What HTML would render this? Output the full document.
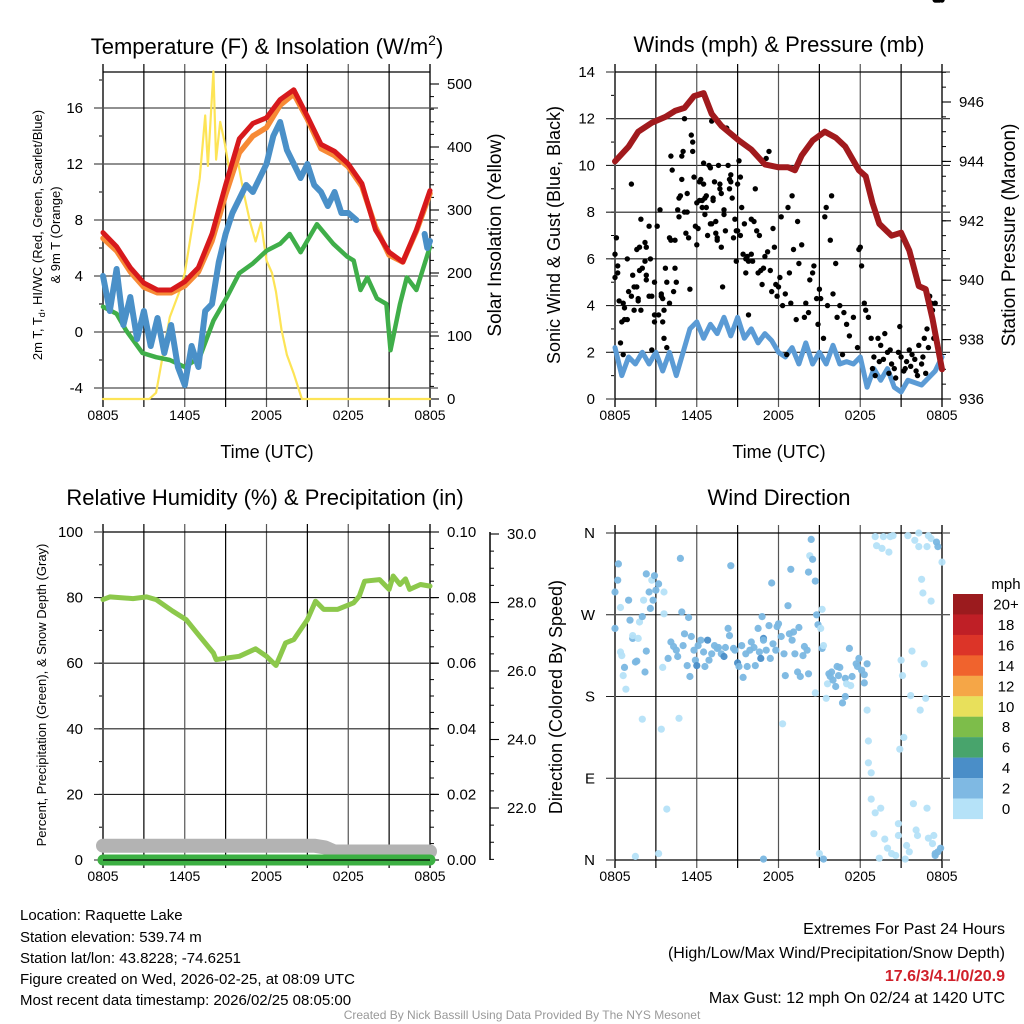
<!DOCTYPE html>
<html><head><meta charset="utf-8"><style>
html,body{margin:0;padding:0;background:#fff;overflow:hidden}
svg{display:block;font-family:"Liberation Sans",sans-serif}
</style></head><body>
<svg id="s" width="1024" height="1024" viewBox="0 0 1024 1024" xmlns="http://www.w3.org/2000/svg"></svg>
<script>
// ---------- data ----------
const timeTickLabels = ["0805","1405","2005","0205","0805"];
const tempHours = [0,1,2,3,4,5,6,7,8,9,10,11,12,13,14,15,16,17,18,19,20,21,22,23,24];
const tempRed =    [7.1,6.1,4.6,3.5,3.0,3.0,3.6,4.6,7.0,10.5,13.8,14.9,15.3,16.6,17.3,15.4,13.4,12.9,12.0,10.6,7.3,5.7,5.0,7.3,10.1];
const tempOrange = [6.7,5.8,4.3,3.2,2.8,2.8,3.3,4.3,6.5,9.8,12.8,14.0,14.6,16.2,17.0,15.2,13.1,12.6,11.8,10.4,7.5,5.5,5.0,7.2,9.9];
const dewHours = [0,1,1.7,2.9,3.9,4.9,6,7.1,8.1,9.1,10,11,12,13,13.7,14.5,15.7,16.9,17.9,18.4,18.9,19.4,20.1,20.8,21.1,21.8,22.3,23,24];
const dewGreen = [1.8,1.3,0.1,-1.5,-1.8,-2.0,-2.5,-1.8,0.8,2.5,4.2,4.9,5.8,6.3,7.0,5.7,7.7,6.3,5.4,5.1,3.0,3.9,2.4,2.0,-1.3,2.0,3.9,3.0,6.1];
const chillHours = [0,0.5,1,1.5,2,2.5,3,3.5,4,4.5,5,5.5,6,6.5,7,7.5,8,8.5,9,9.5,10,10.5,11,11.5,12,12.5,13,13.5,14,14.5,15,15.5,16,16.5,17,17.5,18,18.6];
const chillBlue =  [4,1.5,4.5,0.5,2.5,-0.5,1.5,-1,1,-1.5,0.5,-2.5,-3.8,-1,-2.5,1.5,2,5,7,8.5,9.5,10.5,10,11,12,14,15,13,12,11,12,10.5,10,9,10,8.5,8.5,8];
const chillHours2 = [23.6,23.8,24];
const chillBlue2 = [7,6,6.5];
const solarHours = [0,3.4,3.9,4.4,4.9,5.6,6,6.6,7.1,7.5,7.7,8.1,8.3,8.6,8.9,9.3,9.8,10.3,10.8,11.2,11.6,12,12.4,12.7,13.1,13.5,14,14.6,24];
const solarYellow = [0,0,10,70,130,170,200,280,350,450,370,520,380,440,410,360,390,330,280,250,280,220,200,170,110,70,40,0,0];
const presHours = [0,1,1.7,2.7,3.7,4.4,5.1,5.8,6.5,7.1,7.8,9.1,10,11,12,12.7,13.2,13.7,14.5,15.4,16.2,16.9,17.9,18.4,18.9,19.4,20.3,21,21.6,22.3,22.8,23.3,24];
const presMaroon = [944.0,944.5,945.0,945.3,945.5,945.7,945.8,946.2,946.3,945.6,945.2,944.7,944.4,943.9,943.8,943.8,943.7,944.2,944.7,945.0,944.8,944.5,943.7,943.5,942.6,941.9,941.5,941.6,941.0,939.8,939.7,938.7,937.0];
const windHours = [0,0.5,1,1.5,2,2.5,3,3.5,4,4.5,5,5.5,6,6.5,7,7.5,8,8.5,9,9.5,10,10.5,11,11.5,12,12.5,13,13.5,14,14.5,15,15.5,16,16.5,17,17.5,18,18.5,19,19.5,20,20.5,21,21.5,22,22.5,23,23.5,24];
const windBlue = [2.2,1.0,1.8,1.5,2.0,1.5,2.0,1.2,2.0,1.0,2.0,3.0,3.3,2.6,3.2,2.8,3.5,2.7,3.5,2.6,3.0,2.4,2.8,2.5,2.0,1.8,2.2,1.5,2.4,1.5,2.0,1.5,2.3,1.5,1.6,1.5,1.8,0.5,1.3,0.8,1.3,0.5,0.3,0.8,0.7,0.6,0.9,1.2,1.8];
const gustHours = [0,0,0.1,0.2,0.2,0.3,0.4,0.5,0.6,0.6,0.7,0.7,0.9,0.9,1.0,1.2,1.2,1.3,1.4,1.4,1.6,1.6,1.7,1.7,1.8,1.8,1.9,1.9,2.0,2.2,2.2,2.3,2.3,2.3,2.5,2.5,2.6,2.7,2.7,2.9,2.9,2.9,3.1,3.2,3.3,3.4,3.4,3.5,3.5,3.6,3.6,3.7,3.8,3.8,4.0,4.0,4.1,4.1,4.2,4.3,4.4,4.4,4.5,4.6,4.7,4.7,4.8,4.9,4.9,5.0,5.1,5.1,5.2,5.3,5.3,5.4,5.5,5.6,5.7,5.7,5.8,5.9,6.0,6.0,6.1,6.2,6.2,6.3,6.4,6.4,6.5,6.5,6.6,6.6,6.7,6.7,6.8,6.9,7.0,7.0,7.1,7.1,7.2,7.2,7.3,7.4,7.4,7.5,7.5,7.6,7.7,7.7,7.8,7.8,7.9,8.0,8.0,8.1,8.2,8.3,8.4,8.4,8.5,8.5,8.6,8.7,8.8,8.9,8.9,9.0,9.0,9.1,9.2,9.2,9.3,9.4,9.5,9.6,9.6,9.7,9.8,9.8,10.0,10.0,10.1,10.2,10.3,10.4,10.5,10.6,10.7,10.8,10.9,11.0,11.1,11.2,11.3,11.4,11.5,11.6,11.7,11.8,11.9,12.0,12.1,12.2,12.3,12.5,12.6,12.7,12.8,12.9,13.0,13.1,13.3,13.4,13.5,13.7,13.9,14.0,14.2,14.3,14.5,14.6,14.8,14.9,15.0,15.1,15.3,15.4,15.5,15.6,15.8,15.9,16.0,16.2,16.3,16.5,16.7,16.8,17.0,17.2,17.5,17.8,17.9,18.0,18.1,18.3,18.4,18.6,18.8,18.9,19.0,19.1,19.3,19.4,19.5,19.7,19.8,20.0,20.1,20.2,20.3,20.5,20.6,20.8,20.9,21.0,21.2,21.3,21.4,21.6,21.7,21.8,22.0,22.1,22.2,22.3,22.5,22.6,22.7,22.8,22.9,23.0,23.1,23.2,23.3,23.4,23.5,23.5,23.6,23.7,23.8,24.0];
const gustMph = [6.2,5.2,6.9,5.7,5.4,4.2,2.4,3.3,1.9,4.1,3.4,3.9,6.0,3.4,4.6,9.2,4.4,5.3,4.8,3.8,6.4,4.8,4.2,4.3,6.5,5.5,7.7,3.8,5.6,6.7,5.9,5.3,6.5,5.1,7.4,4.4,6.0,4.4,2.1,3.3,3.6,5.0,7.4,3.6,8.1,4.5,4.4,4.3,3.3,3.8,2.6,5.6,5.0,2.2,6.9,4.1,10.4,6.8,9.8,4.6,5.6,6.8,5.0,8.1,7.8,8.6,8.7,10.4,9.4,10.6,12.0,8.0,7.1,8.8,8.0,6.9,4.7,11.3,10.6,11.0,9.5,7.4,6.6,8.4,7.3,9.3,8.5,9.4,8.5,8.2,10.1,9.2,7.9,8.6,8.7,8.2,7.0,10.0,9.9,7.5,11.9,7.5,8.6,8.5,9.3,7.6,7.1,6.8,6.9,10.0,9.2,9.0,8.8,6.5,4.8,8.1,7.9,7.2,11.6,10.0,9.0,9.4,9.6,9.3,8.6,6.9,7.7,5.9,7.2,7.2,9.2,10.2,9.5,7.0,8.2,6.2,7.5,5.4,6.0,6.1,5.9,3.6,7.7,6.2,5.9,7.6,9.0,7.2,5.4,7.0,5.5,4.9,5.6,6.1,10.3,6.3,10.6,5.5,4.6,7.3,6.5,4.9,4.4,4.8,5.2,7.8,4.0,4.5,1.9,8.2,5.4,4.1,8.7,6.4,3.4,7.6,5.8,6.6,3.5,4.1,3.7,5.1,5.4,5.7,4.3,3.2,4.7,4.3,2.6,7.8,8.2,4.0,6.8,8.7,4.5,5.8,3.5,4.0,1.9,3.7,3.2,2.7,3.5,2.2,6.4,6.5,5.7,4.1,3.8,3.5,2.6,1.3,1.8,1.0,2.6,1.6,2.3,1.7,2.8,2.0,1.1,2.1,1.5,1.3,0.9,2.0,3.1,1.8,1.2,1.3,1.6,2.1,1.4,1.9,1.7,1.2,1.0,2.3,1.5,1.8,2.6,1.1,3.0,2.2,4.4,4.1,3.8,2.6,4.1];
const rhHours = [0,0.5,2.2,3.2,3.9,5.1,6.1,7.1,8.1,8.3,9.1,10,11.2,12,12.7,13.4,14,15,15.6,16.2,17.2,18.4,18.8,19.2,20.3,21,21.3,21.8,22.2,22.5,23.3,24];
const rhGreen = [79.4,80.2,79.7,80.2,79.4,75.9,73.3,68.2,63.1,61.1,61.6,62.1,64.4,62.1,59.3,66.2,67.2,73.3,78.9,76.4,76.4,78.4,80.4,85,85.5,82.5,86.6,84,85.7,82.5,84,83.5];
const precipHours = [0,24];
const precipIn = [0,0];
const snowHours = [0,15.5,16.3,17.0,24];
const snowDepth = [20.9,20.9,20.85,20.73,20.73];
const dirLabels = ["N","E","S","W","N"];
const dirHours = [0,0,0.2,0.25,0.4,0.4,0.5,0.6,0.7,0.8,1,1.1,1.3,1.3,1.5,1.6,1.7,1.8,2,2.1,2.0,2.2,2.3,2.3,2.5,2.6,2.7,2.8,2.9,3,3.2,3.4,3.6,3.6,3.5,3.8,3.2,1.5,3.9,4.1,4.3,4.5,4.6,4.8,4.9,4.7,5,5.1,5.3,5.4,5.5,5.6,5.8,5.9,6,6.1,6.3,6.5,6.6,6.8,6.9,7.1,7.3,7.5,7.6,7.8,8,8.1,8.3,8.4,8.5,8.7,8.8,9,9.1,9.3,9.4,9.6,9.7,9.9,10,10.2,10.3,10.5,10.6,10.7,10.8,10.9,10.9,10.9,11.1,11.3,11.4,11.5,11.6,11.8,11.9,12,12.2,12.3,12.4,12.5,12.7,12.8,12.9,13,13.1,13.2,13.4,13.5,13.6,13.8,13.9,14.1,14.2,14.2,14.3,14.4,14.5,14.7,14.8,14.7,14.9,15,15.1,15.2,15.2,15.3,15.3,15.5,15.6,15.7,15.8,15.9,16.0,16.2,16.3,16.4,16.5,16.7,16.9,16.9,17.0,17.2,17.3,17.4,17.7,17.8,17.9,18.1,18.3,18.3,18.5,18.5,18.6,18.6,18.8,18.8,19,19.1,19.1,19.2,19.4,19.5,19.6,19.7,19.8,20,20.1,20.2,20.3,20.4,20.6,20.8,20.8,20.9,21,21.1,21.2,21.3,21.4,21.5,21.6,21.7,21.8,21.9,22,22.1,22.2,22.3,22.3,22.4,22.5,22.6,22.7,22.8,22.9,22.9,23,23,23.2,23.2,23.3,23.4,23.5,23.5,23.6,23.7,23.7,23.9,24];
const dirDeg = [255,295,308,326,278,229,225,203,212,188,286,264,244,247,218,219,244,262,268,286,155,207,230,315,295,277,308,286,313,297,304,144,295,271,212,56,7,4,222,240,235,231,224,332,273,156,236,249,214,267,202,246,231,220,214,236,242,229,213,242,220,227,236,233,234,227,224,234,255,247,324,233,231,217,213,236,201,227,213,231,240,234,214,255,229,222,268,244,242,1,231,258,222,305,238,231,257,260,246,150,227,203,280,249,320,242,251,227,207,256,202,225,235,231,205,317,335,353,331,307,270,184,259,7,255,233,276,1,236,178,194,205,202,207,198,191,213,203,212,173,180,200,194,233,192,202,216,213,222,209,195,204,216,165,131,107,96,67,29,52,356,346,2,57,343,356,23,13,339,356,7,357,5,27,40,122,220,203,135,1,16,357,9,181,230,62,352,33,27,360,345,165,309,294,216,178,345,57,24,357,285,354,18,27,5,7,350,9,345,13,328];
const dirSpeedClass = [2,2,2,2,1,1,1,1,2,1,2,2,2,1,2,2,1,1,2,1,1,2,2,2,2,2,1,2,2,2,2,1,1,1,1,1,1,1,2,2,2,2,2,2,2,1,2,2,2,2,2,2,2,2,3,2,2,2,2,3,2,2,2,2,2,2,3,2,2,2,2,2,2,3,2,2,2,2,2,2,2,2,2,2,2,3,2,3,2,2,2,2,2,2,2,2,2,2,2,1,2,2,2,2,2,2,2,2,2,2,2,2,2,2,2,2,1,2,2,2,2,1,2,1,1,2,1,2,1,1,1,2,2,2,2,2,2,2,2,2,2,2,1,2,1,2,2,2,2,2,2,2,2,1,1,1,1,1,1,1,1,1,1,1,1,1,1,1,1,1,1,1,1,1,1,1,1,1,1,1,1,1,1,1,1,1,1,1,1,1,1,1,1,1,1,1,1,1,1,1,1,1,1,1,2,2,2,2,2,2,1,1];
const cbLabels = ["20+","18","16","14","12","10","8","6","4","2","0"];
// ---------- helpers ----------
const NS="http://www.w3.org/2000/svg";
const svg=document.getElementById('s');
function mk(tag,attrs,parent){const e=document.createElementNS(NS,tag);for(const k in attrs)e.setAttribute(k,attrs[k]);(parent||svg).appendChild(e);return e;}
function txt(s,x,y,size,anchor,parent,extra){const e=mk('text',Object.assign({x:x,y:y,'font-size':size,'text-anchor':anchor||'start',fill:'#000'},extra||{}),parent);e.textContent=s;return e;}
const X0=103,X1=430,BX0=615,BX1=942;
function xT(t,base){return base+t*(327/24);}
function poly(hours,vals,xb,yf,stroke,w,name,parent){let d='';for(let i=0;i<hours.length;i++){d+=(i?'L':'M')+xT(hours[i],xb).toFixed(1)+' '+yf(vals[i]).toFixed(1);}const p=mk('path',{d:d,fill:'none',stroke:stroke,'stroke-width':w,'stroke-linejoin':'round','stroke-linecap':'round'},parent);return p;}
function frame(xb,top,bot,name){
  const g=mk('g',{});
  for(let k=0;k<=8;k++){const x=xT(k*3,xb);const l=mk('line',{x1:x,x2:x,y1:top-8,y2:bot+8,stroke:(k%2?'#000':'#555'),'stroke-width':(k==0||k==8)?2:1.2},g);}
  mk('line',{x1:xb,x2:xb+327,y1:top,y2:top,stroke:'#000','stroke-width':1.3},g);
  mk('line',{x1:xb,x2:xb+327,y1:bot,y2:bot,stroke:'#000','stroke-width':1.3},g);
  for(let k=0;k<5;k++){const t=txt(timeTickLabels[k],xT(k*6,xb),bot+21,14,'middle',g);}
  return g;
}
function leftAxis(xb,yf,majors,minors,fmt,name,gridEnd){
  const g=mk('g',{});
  minors.forEach(v=>{mk('line',{x1:xb-4,x2:xb,y1:yf(v),y2:yf(v),stroke:'#000','stroke-width':1},g);});
  majors.forEach((v,i)=>{const y=yf(v);mk('line',{x1:xb-9,x2:gridEnd,y1:y,y2:y,stroke:'#222','stroke-width':1.1},g);const t=txt(fmt(v,i),xb-20,y+5,15,'end',g);});
  return g;
}
function rightAxis(xr,yf,majors,minors,fmt,name){
  const g=mk('g',{});
  minors.forEach(v=>{mk('line',{x1:xr,x2:xr+4,y1:yf(v),y2:yf(v),stroke:'#000','stroke-width':1},g);});
  majors.forEach(v=>{const y=yf(v);mk('line',{x1:xr,x2:xr+9,y1:y,y2:y,stroke:'#000','stroke-width':1.1},g);const t=txt(fmt(v),xr+17,y+5,15,'start',g);});
  return g;
}
function range(a,b,s){const r=[];for(let v=a;v<=b+1e-9;v+=s)r.push(+v.toFixed(4));return r;}
function rotText(s,x,y,size,name){const t=txt(s,x,y,size,'middle',null,{transform:'rotate(-90 '+x+' '+y+')'});return t;}

// ---------- Panel 1: Temperature ----------
const yT=v=>332-14*v, yS=w=>399-w*0.63;
let t1=txt('',267,54,22,'middle');t1.innerHTML='Temperature (F) &amp; Insolation (W/m<tspan font-size="14" dy="-9">2</tspan><tspan dy="9">)</tspan>';

leftAxis(X0,yT,[-4,0,4,8,12,16],range(-4,18,2),v=>String(v),'temp-left-axis',X1+8);
frame(X0,72,399,'temperature-frame');
rightAxis(X1,yS,[0,100,200,300,400,500],range(0,500,20),v=>String(v),'solar-right-axis');
const p1=mk('g',{});
poly(solarHours,solarYellow,X0,yS,'#fde456',2.2,'solar-line',p1);
poly(dewHours,dewGreen,X0,yT,'#3fae49',4.5,'dewpoint-line',p1);
poly(tempHours,tempOrange,X0,yT,'#f78a36',5.5,'temp-9m-line',p1);
poly(tempHours,tempRed,X0,yT,'#d7191c',5,'temp-2m-line',p1);
poly(chillHours,chillBlue,X0,yT,'#4a90c8',6,'windchill-line',p1);
poly(chillHours2,chillBlue2,X0,yT,'#4a90c8',6,'windchill-line-end',p1);
let a1=txt('',42,235,13,'middle',null,{transform:'rotate(-90 42 235)'});a1.innerHTML='2m T, T<tspan font-size="9" dy="3">d</tspan><tspan dy="-3">, HI/WC (Red, Green, Scarlet/Blue)</tspan>';

rotText('& 9m T (Orange)',60,235,13,'temp-y-axis-title-2');
rotText('Solar Insolation (Yellow)',501,235,19,'solar-y-axis-title');
let xt1=txt('Time (UTC)',267,458,18,'middle');

// ---------- Panel 2: Winds ----------
const yW=v=>399-v*(327/14), yP=p=>399-(p-936)*29.7;
let t2=txt('Winds (mph) & Pressure (mb)',779,52,22,'middle');
leftAxis(BX0,yW,range(0,14,2),range(0,14,1),v=>String(v),'wind-left-axis',BX1+8);
frame(BX0,72,399,'winds-frame');
rightAxis(BX1,yP,[936,938,940,942,944,946],range(936,947,0.5),v=>String(v),'pressure-right-axis');
const p2=mk('g',{});
poly(windHours,windBlue,BX0,yW,'#5b9bd5',5,'sonic-wind-line',p2);
for(let i=0;i<gustHours.length;i++){const c=mk('circle',{cx:xT(gustHours[i],BX0).toFixed(1),cy:yW(gustMph[i]).toFixed(1),r:2.7,fill:'#000'},p2);

}
poly(presHours,presMaroon,BX0,yP,'#a11a1d',6,'pressure-line',p2);
rotText('Sonic Wind & Gust (Blue, Black)',560,235,18,'wind-y-axis-title');
rotText('Station Pressure (Maroon)',1015,235,19,'pressure-y-axis-title');
let xt2=txt('Time (UTC)',779,458,18,'middle');

// ---------- Panel 3: RH ----------
const yRH=v=>860-3.28*v, yPr=v=>860-v*3280, ySn=v=>534+(30-v)*34.25;
let t3=txt('Relative Humidity (%) & Precipitation (in)',265,505,22,'middle');
leftAxis(X0,yRH,[0,20,40,60,80,100],range(0,100,10),v=>String(v),'rh-left-axis',X1+8);
frame(X0,532,860,'rh-frame');
rightAxis(X1,yPr,[0,0.02,0.04,0.06,0.08,0.1],range(0,0.1,0.005),v=>v.toFixed(2),'precip-right-axis');
const sg=rightAxis(490,ySn,[22,24,26,28,30],range(20.5,30,0.5),v=>v.toFixed(1),'snow-right-axis');
mk('line',{x1:490,x2:490,y1:532,y2:860,stroke:'#000','stroke-width':1.5},sg);
const p3=mk('g',{});
poly(snowHours,snowDepth,X0,ySn,'#b3b3b3',14,'snow-depth-line',p3);
poly(precipHours,precipIn,X0,yPr,'#3cb043',11,'precip-line',p3);
mk('line',{x1:X0,x2:X1,y1:860,y2:860,stroke:'#000','stroke-width':1.3},p3);
poly(rhHours,rhGreen,X0,yRH,'#8cc84b',5,'rh-line',p3);
rotText('Percent, Precipitation (Green), & Snow Depth (Gray)',46,695,13,'rh-y-axis-title');

// ---------- Panel 4: Direction ----------
const yD=d=>860-d*(327/360);
let t4=txt('Wind Direction',779,505,22,'middle');
leftAxis(BX0,yD,[0,90,180,270,360],[],(v,i)=>dirLabels[i],'direction-left-axis',BX1+8);
frame(BX0,533,860,'direction-frame');
const spdColors=['#b5e2f8','#b5e2f8','#7ab7e2','#4a8ec8'];
const p4=mk('g',{});
for(let i=0;i<dirHours.length;i++){const c=mk('circle',{cx:xT(dirHours[i],BX0).toFixed(1),cy:yD(dirDeg[i]).toFixed(1),r:3.6,fill:spdColors[dirSpeedClass[i]],'fill-opacity':0.95},p4);

}
rotText('Direction (Colored By Speed)',562,697,18,'direction-y-axis-title');
const cbColors=['#9b1b1e','#bf1f26','#dc3428','#f0632d','#f5a647','#e8e05b','#7dbd4a','#48a46c','#4a8ec8','#7fb9e3','#b5e2f8'];
const cb=mk('g',{});
let mt=txt('mph',1006,589,15,'middle',cb);
for(let i=0;i<cbLabels.length;i++){const y=594+i*20.45;mk('rect',{x:953,y:y,width:30,height:20.6,fill:cbColors[i]},cb);const l=txt(cbLabels[i],1006,y+15.5,15,'middle',cb);}

// ---------- Footer ----------
const foot=mk('g',{});
[['Location: Raquette Lake',920],['Station elevation: 539.74 m',942],['Station lat/lon: 43.8228; -74.6251',963],['Figure created on Wed, 2026-02-25, at 08:09 UTC',984],['Most recent data timestamp: 2026/02/25 08:05:00',1005]].forEach(a=>{const t=txt(a[0],20,a[1],15,'start',foot);});
const ex=mk('g',{});
txt('Extremes For Past 24 Hours',1005,934,16,'end',ex);
txt('(High/Low/Max Wind/Precipitation/Snow Depth)',1005,958,16,'end',ex);
txt('17.6/3/4.1/0/20.9',1005,981,16,'end',ex,{fill:'#d0202a','font-weight':'bold'});
txt('Max Gust: 12 mph On 02/24 at 1420 UTC',1005,1003,16,'end',ex);
let cr=txt('Created By Nick Bassill Using Data Provided By The NYS Mesonet',522,1019,12,'middle',null,{fill:'#999'});

</script>
</body></html>
